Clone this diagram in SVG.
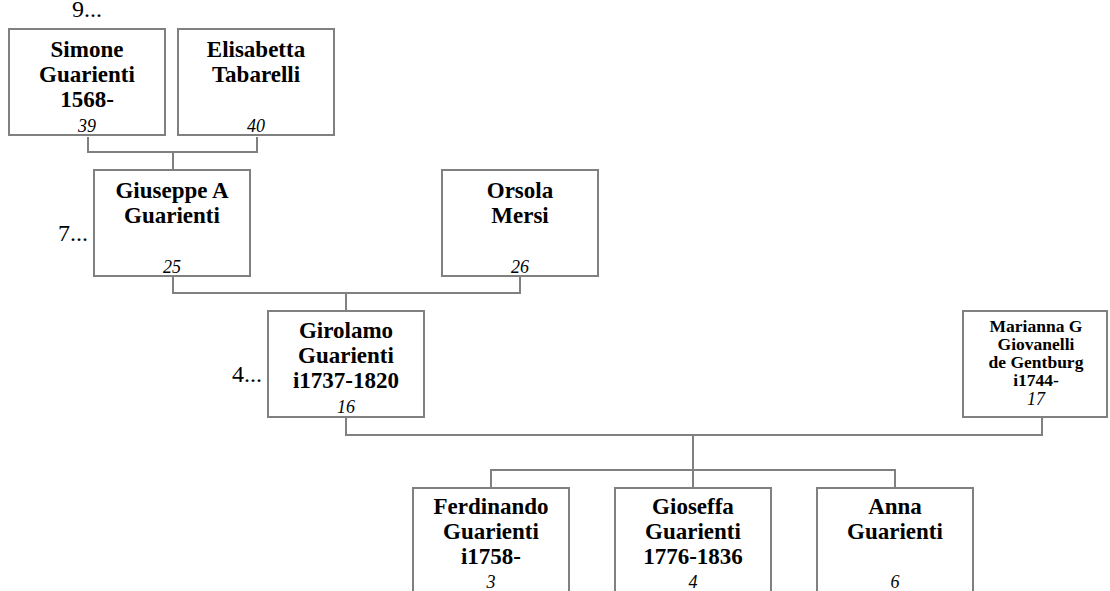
<svg xmlns="http://www.w3.org/2000/svg" width="1110" height="591" viewBox="0 0 1110 591">
<style>
.box{fill:#fff;stroke:#808080;stroke-width:2}
.con{fill:none;stroke:#808080;stroke-width:2}
.n{font-family:"Liberation Serif",serif;font-weight:bold;font-size:23px;text-anchor:middle;fill:#000}
.s{font-family:"Liberation Serif",serif;font-weight:bold;font-size:17.5px;text-anchor:middle;fill:#000}
.id{font-family:"Liberation Serif",serif;font-style:italic;font-size:18px;text-anchor:middle;fill:#000}
.m{font-family:"Liberation Serif",serif;font-size:24px;fill:#000}
</style>
<rect width="1110" height="591" fill="#fff"/>
<g id="connectors">
<path class="con" d="M88,137 V152 H257 V137 M173,152 V169"/>
<path class="con" d="M173,277 V293 H520 V277 M346,293 V310"/>
<path class="con" d="M346,418 V435 H1042 V418 M693,435 V487 M491,487 V470 H895 V487"/>
</g>
<g id="n39">
<rect class="box" x="9" y="29" width="156" height="106"/>
<text class="m" x="87" y="17" text-anchor="middle">9...</text>
<text class="n" x="87" y="57">Simone</text>
<text class="n" x="87" y="82">Guarienti</text>
<text class="n" x="87" y="107">1568-</text>
<text class="id" x="87" y="132">39</text>
</g>
<g id="n40">
<rect class="box" x="178" y="29" width="156" height="106"/>
<text class="n" x="256" y="57">Elisabetta</text>
<text class="n" x="256" y="82">Tabarelli</text>
<text class="id" x="256" y="132">40</text>
</g>
<g id="n25">
<rect class="box" x="94" y="170" width="156" height="106"/>
<text class="m" x="88" y="241" text-anchor="end">7...</text>
<text class="n" x="172" y="198">Giuseppe A</text>
<text class="n" x="172" y="223">Guarienti</text>
<text class="id" x="172" y="273">25</text>
</g>
<g id="n26">
<rect class="box" x="442" y="170" width="156" height="106"/>
<text class="n" x="520" y="198">Orsola</text>
<text class="n" x="520" y="223">Mersi</text>
<text class="id" x="520" y="273">26</text>
</g>
<g id="n16">
<rect class="box" x="268" y="311" width="156" height="106"/>
<text class="m" x="262" y="382" text-anchor="end">4...</text>
<text class="n" x="346" y="338">Girolamo</text>
<text class="n" x="346" y="363">Guarienti</text>
<text class="n" x="346" y="388">i1737-1820</text>
<text class="id" x="346" y="413">16</text>
</g>
<g id="n17">
<rect class="box" x="963" y="311" width="144" height="106"/>
<text class="s" x="1036" y="332">Marianna G</text>
<text class="s" x="1036" y="350">Giovanelli</text>
<text class="s" x="1036" y="368">de Gentburg</text>
<text class="s" x="1036" y="386">i1744-</text>
<text class="id" x="1036" y="405">17</text>
</g>
<g id="n3">
<rect class="box" x="413" y="488" width="156" height="106"/>
<text class="n" x="491" y="514">Ferdinando</text>
<text class="n" x="491" y="539">Guarienti</text>
<text class="n" x="491" y="564">i1758-</text>
<text class="id" x="491" y="588">3</text>
</g>
<g id="n4">
<rect class="box" x="615" y="488" width="156" height="106"/>
<text class="n" x="693" y="514">Gioseffa</text>
<text class="n" x="693" y="539">Guarienti</text>
<text class="n" x="693" y="564">1776-1836</text>
<text class="id" x="693" y="588">4</text>
</g>
<g id="n6">
<rect class="box" x="817" y="488" width="156" height="106"/>
<text class="n" x="895" y="514">Anna</text>
<text class="n" x="895" y="539">Guarienti</text>
<text class="id" x="895" y="588">6</text>
</g>
</svg>
